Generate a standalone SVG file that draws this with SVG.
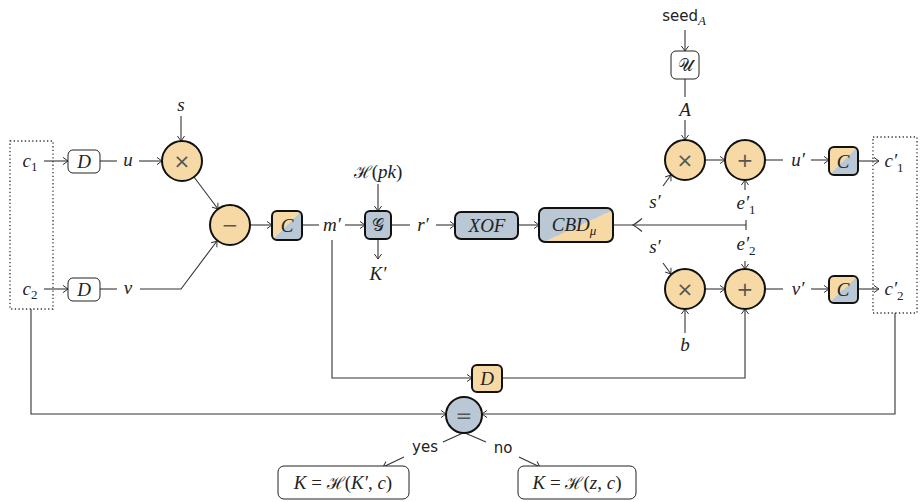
<svg xmlns="http://www.w3.org/2000/svg" width="921" height="502" viewBox="0 0 921 502">
<style>
.m{font-family:"Liberation Serif","DejaVu Serif",serif;font-style:italic;font-size:19px;fill:#222;text-anchor:middle}
.sub{font-style:normal;font-size:13px}
.cal{font-style:normal;font-family:"DejaVu Serif",serif;font-size:17px}
.up{font-style:normal}
.s{font-family:"DejaVu Sans",sans-serif;font-size:15px;fill:#222;text-anchor:middle}
.ln{fill:none;stroke:#333;stroke-width:1.1}
.ar{marker-end:url(#a)}
.op{fill:#f6d9a4;stroke:#111;stroke-width:2}
.wb{fill:#fff;stroke:#222;stroke-width:1}
.bb{fill:#bac8d6;stroke:#111;stroke-width:2}
.cb{fill:url(#gc);stroke:#111;stroke-width:2}
.sym{font-family:"DejaVu Sans",sans-serif;font-size:20px;fill:#555;text-anchor:middle}
.dot{fill:none;stroke:#333;stroke-width:1.3;stroke-dasharray:1.3 2.4}
</style>
<defs>
<marker id="a" markerWidth="10" markerHeight="10" viewBox="-6 -5 8 10" refX="0" refY="0" orient="auto" markerUnits="userSpaceOnUse">
<path d="M-5,-3.6 Q-1.5,-1 0,0 Q-1.5,1 -5,3.6" fill="none" stroke="#333" stroke-width="1"/>
</marker>
<linearGradient id="gc" x1="0" y1="0" x2="1" y2="1">
<stop offset="0.5" stop-color="#f6d9a4"/><stop offset="0.5" stop-color="#bac8d6"/>
</linearGradient>
<linearGradient id="gb" x1="0" y1="0" x2="1" y2="1">
<stop offset="0.53" stop-color="#bac8d6"/><stop offset="0.53" stop-color="#f6d9a4"/>
</linearGradient>
</defs>

<g id="connectors">
<line class="ln ar" x1="44" y1="161" x2="68" y2="161"/>
<line class="ln" x1="100" y1="161" x2="117" y2="161"/>
<line class="ln ar" x1="139" y1="161" x2="162" y2="161"/>
<line class="ln ar" x1="181" y1="116" x2="181" y2="141"/>
<line class="ln ar" x1="194" y1="177" x2="218" y2="209"/>
<line class="ln ar" x1="44" y1="289" x2="68" y2="289"/>
<line class="ln" x1="100" y1="289" x2="117" y2="289"/>
<path class="ln ar" d="M140,289 L181,289 L217,241"/>
<line class="ln ar" x1="250" y1="225" x2="272" y2="225"/>
<line class="ln" x1="302" y1="225" x2="319" y2="225"/>
<line class="ln ar" x1="345" y1="225" x2="365" y2="225"/>
<path class="ln ar" d="M332,240 L332,378 L472,378"/>
<line class="ln ar" x1="378" y1="184" x2="378" y2="211"/>
<line class="ln ar" x1="378" y1="239" x2="378" y2="259"/>
<line class="ln" x1="391" y1="225" x2="410" y2="225"/>
<line class="ln ar" x1="436" y1="225" x2="455" y2="225"/>
<line class="ln ar" x1="518" y1="225" x2="539" y2="225"/>
<line class="ln" x1="613" y1="225" x2="746" y2="225"/>
<path class="ln" d="M642,218.5 Q636,223.5 633,225 Q636,226.5 642,231.5"/>
<line class="ln" x1="746" y1="220" x2="746" y2="230"/>
<line class="ln ar" x1="685" y1="30" x2="685" y2="51"/>
<line class="ln" x1="685" y1="79" x2="685" y2="97"/>
<line class="ln ar" x1="685" y1="120" x2="685" y2="140"/>
<line class="ln ar" x1="663" y1="186" x2="671" y2="175"/>
<line class="ln ar" x1="745" y1="190" x2="745" y2="180"/>
<line class="ln ar" x1="705" y1="160" x2="725" y2="160"/>
<line class="ln" x1="765" y1="160" x2="783" y2="160"/>
<line class="ln ar" x1="811" y1="160" x2="829" y2="160"/>
<line class="ln ar" x1="858" y1="161" x2="879" y2="161"/>
<line class="ln ar" x1="663" y1="263" x2="671" y2="274"/>
<line class="ln ar" x1="745" y1="261" x2="745" y2="269"/>
<line class="ln ar" x1="705" y1="289" x2="725" y2="289"/>
<line class="ln" x1="765" y1="289" x2="783" y2="289"/>
<line class="ln ar" x1="811" y1="289" x2="829" y2="289"/>
<line class="ln ar" x1="858" y1="289" x2="879" y2="289"/>
<line class="ln ar" x1="685" y1="333" x2="685" y2="309"/>
<path class="ln ar" d="M502,378 L745,378 L745,309"/>
<path class="ln ar" d="M31,309 L31,414 L446,414"/>
<path class="ln ar" d="M895,313 L895,414 L482,414"/>
<line class="ln" x1="463" y1="433" x2="443" y2="442"/>
<line class="ln ar" x1="404" y1="457" x2="383" y2="467"/>
<line class="ln" x1="465" y1="433" x2="486" y2="442"/>
<line class="ln ar" x1="519" y1="457" x2="540" y2="467"/>
</g>

<g id="ct-box"><rect class="dot" x="10" y="141" width="43" height="168"/>
<text class="m" x="30" y="167">c<tspan class="sub" dy="4">1</tspan></text>
<text class="m" x="30" y="295">c<tspan class="sub" dy="4">2</tspan></text></g>
<g id="d1"><rect class="wb" x="68" y="150" width="32" height="23" rx="5"/><text class="m" x="84" y="168">D</text></g>
<g id="d2"><rect class="wb" x="68" y="278" width="32" height="23" rx="5"/><text class="m" x="84" y="296">D</text></g>
<g id="u"><text class="m" x="128" y="166">u</text></g>
<g id="v"><text class="m" x="128" y="294">v</text></g>
<g id="s"><text class="m" x="181" y="111">s</text></g>
<g id="mul1"><circle class="op" cx="182" cy="161" r="20"/><text class="sym" x="182" y="168">×</text></g>
<g id="sub"><circle class="op" cx="230" cy="225" r="20"/><text class="sym" x="230" y="232">−</text></g>
<g id="c-left"><rect class="cb" x="272" y="211" width="30" height="29" rx="5"/><text class="m" x="287" y="232" fill="#333">C</text></g>
<g id="m"><text class="m" x="332" y="231">m′</text></g>
<g id="hpk"><text class="m" x="378" y="178"><tspan class="cal">ℋ</tspan><tspan class="up">(</tspan>pk<tspan class="up">)</tspan></text></g>
<g id="G"><rect class="bb" x="365" y="211" width="26" height="28" rx="5"/><text class="m cal" x="378" y="231">𝒢</text></g>
<g id="kp"><text class="m" x="378" y="280">K′</text></g>
<g id="r"><text class="m" x="423" y="231">r′</text></g>
<g id="xof"><rect class="bb" x="455" y="212" width="63" height="27" rx="6"/><text class="m" x="487" y="232">XOF</text></g>
<g id="cbd"><rect x="539" y="208" width="74" height="34" rx="6" fill="url(#gb)" stroke="#111" stroke-width="2"/><text class="m" x="574" y="231">CBD<tspan style="font-size:13px" dy="4">μ</tspan></text></g>
<g id="seed"><text class="s" x="684" y="21">seed<tspan style="font-family:'Liberation Serif',serif;font-style:italic;font-size:13px" dy="4">A</tspan></text></g>
<g id="U"><rect class="wb" x="671" y="51" width="28" height="28" rx="5"/><text class="m cal" x="685" y="71">𝒰</text></g>
<g id="A"><text class="m" x="685" y="116">A</text></g>
<g id="mul2"><circle class="op" cx="685" cy="160" r="20"/><text class="sym" x="685" y="167">×</text></g>
<g id="add1"><circle class="op" cx="745" cy="160" r="20"/><text class="sym" x="745" y="167">+</text></g>
<g id="up"><text class="m" x="798" y="166">u′</text></g>
<g id="c1"><rect class="cb" x="829" y="147" width="29" height="28" rx="5"/><text class="m" x="843" y="168" fill="#333">C</text></g>
<g id="sp1"><text class="m" x="655" y="208">s′</text></g>
<g id="e1"><text class="m" x="746" y="209">e′<tspan class="sub" dy="5">1</tspan></text></g>
<g id="sp2"><text class="m" x="655" y="253">s′</text></g>
<g id="e2"><text class="m" x="746" y="250">e′<tspan class="sub" dy="5">2</tspan></text></g>
<g id="mul3"><circle class="op" cx="685" cy="289" r="20"/><text class="sym" x="685" y="296">×</text></g>
<g id="add2"><circle class="op" cx="745" cy="289" r="20"/><text class="sym" x="745" y="296">+</text></g>
<g id="b"><text class="m" x="685" y="351">b</text></g>
<g id="vp"><text class="m" x="798" y="295">v′</text></g>
<g id="c2"><rect class="cb" x="829" y="276" width="29" height="27" rx="5"/><text class="m" x="843" y="296" fill="#333">C</text></g>
<g id="c-right"><rect class="dot" x="873" y="137" width="44" height="176"/>
<text class="m" x="894" y="167">c′<tspan class="sub" dy="5">1</tspan></text>
<text class="m" x="894" y="295">c′<tspan class="sub" dy="5">2</tspan></text></g>
<g id="d3"><rect class="op" x="472" y="365" width="30" height="27" rx="5"/><text class="m" x="487" y="385">D</text></g>
<g id="eq"><circle class="bb" cx="464" cy="415" r="18"/><text class="sym" x="464" y="422">=</text></g>
<g id="yes"><text class="s" x="425" y="452">yes</text></g>
<g id="no"><text class="s" x="503" y="453">no</text></g>
<g id="k1"><rect class="wb" x="278" y="466" width="131" height="33" rx="6"/><text class="m" x="343" y="489">K <tspan class="up">=</tspan> <tspan class="cal">ℋ</tspan><tspan class="up">(</tspan>K′<tspan class="up">,</tspan> c<tspan class="up">)</tspan></text></g>
<g id="k2"><rect class="wb" x="518" y="466" width="118" height="33" rx="6"/><text class="m" x="577" y="489">K <tspan class="up">=</tspan> <tspan class="cal">ℋ</tspan><tspan class="up">(</tspan>z<tspan class="up">,</tspan> c<tspan class="up">)</tspan></text></g>
</svg>
